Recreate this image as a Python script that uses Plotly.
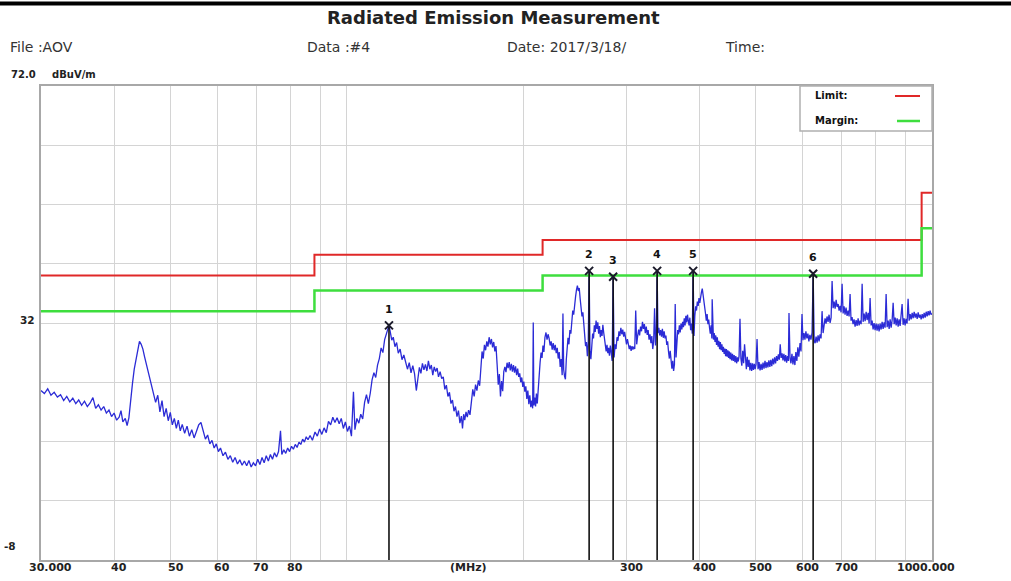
import math
import plotly.graph_objects as go

# ---- measured emission scan: (frequency MHz, level dBuV/m) ----
scan = [
    (30.0, 20.6), (30.4, 20.1), (30.8, 20.9), (31.2, 19.8), (31.6, 20.3), (32.0, 19.5),
    (32.4, 19.9), (32.8, 18.9), (33.2, 19.6), (33.6, 18.7), (34.0, 19.3), (34.4, 18.4),
    (34.8, 19.0), (35.2, 18.1), (35.6, 18.8), (36.0, 17.9), (36.4, 18.5), (36.8, 19.4),
    (37.2, 17.6), (37.6, 18.2), (38.0, 17.3), (38.4, 17.9), (38.8, 16.8), (39.2, 17.3),
    (39.6, 16.2), (40.0, 16.8), (40.4, 15.6), (40.8, 16.1), (41.1, 17.2), (41.4, 15.3),
    (41.8, 15.9), (42.1, 14.7), (42.4, 16.0), (42.7, 19.5), (43.0, 21.8), (43.3, 24.2),
    (43.6, 26.0), (43.9, 27.2), (44.2, 28.9), (44.5, 28.4), (44.8, 27.6), (45.1, 26.3),
    (45.5, 24.8), (45.9, 23.2), (46.3, 21.5), (46.7, 20.1), (47.1, 18.6), (47.5, 19.8),
    (47.9, 17.0), (48.3, 18.9), (48.7, 16.2), (49.1, 17.6), (49.5, 15.5), (49.9, 16.9),
    (50.3, 14.8), (50.7, 15.9), (51.1, 14.2), (51.5, 15.6), (51.9, 13.8), (52.3, 14.9),
    (52.8, 13.4), (53.3, 14.6), (53.8, 12.9), (54.3, 14.0), (54.8, 12.6), (55.3, 13.7),
    (55.8, 14.8), (56.3, 15.2), (56.8, 13.9), (57.3, 12.4), (57.8, 13.1), (58.3, 11.6),
    (58.8, 12.2), (59.3, 10.9), (59.8, 11.6), (60.3, 10.3), (60.8, 10.9), (61.4, 9.6),
    (62.0, 10.2), (62.6, 9.0), (63.2, 9.6), (63.8, 8.5), (64.4, 9.3), (65.0, 8.2),
    (65.6, 8.9), (66.2, 8.0), (66.8, 8.7), (67.4, 7.9), (68.0, 8.8), (68.6, 7.7),
    (69.2, 8.4), (69.8, 7.9), (70.4, 9.0), (71.0, 8.1), (71.6, 9.3), (72.2, 8.4),
    (72.8, 9.6), (73.4, 8.7), (74.0, 9.8), (74.6, 9.0), (75.2, 10.1), (75.8, 9.4),
    (76.4, 10.3), (77.0, 13.8), (77.4, 9.8), (78.0, 10.6), (78.6, 10.0), (79.2, 10.9),
    (79.8, 10.3), (80.4, 11.2), (81.0, 10.7), (81.6, 11.5), (82.2, 11.0), (82.8, 11.9),
    (83.4, 11.5), (84.0, 12.4), (84.6, 11.9), (85.2, 12.8), (85.8, 12.3),
    (86.5, 13.0), (87.3, 12.2), (88.2, 13.6), (89.0, 12.9), (89.8, 14.1), (90.6, 13.2),
    (91.4, 14.3), (92.2, 13.5), (93.0, 15.4), (93.8, 14.8), (94.6, 16.1), (95.4, 15.2),
    (96.2, 16.0), (97.0, 15.0), (97.8, 15.9), (98.6, 14.2), (99.4, 15.3), (100.2, 13.7),
    (101.0, 14.6), (101.8, 12.9), (102.6, 20.4), (103.2, 14.0), (104.0, 15.9), (104.8, 15.1),
    (105.6, 16.6), (106.4, 15.8), (107.2, 18.6), (108.0, 19.9), (108.8, 18.4), (109.6, 20.1),
    (110.4, 22.4), (111.2, 23.6), (112.0, 22.8), (112.8, 24.9), (113.6, 26.0), (114.4, 27.8),
    (115.2, 27.0), (116.0, 29.2), (116.8, 30.1), (117.4, 30.8), (118.0, 31.6), (118.6, 30.5),
    (119.3, 29.1), (120.0, 29.6), (120.8, 28.0), (121.6, 28.7), (122.4, 26.9), (123.3, 27.6),
    (124.2, 25.8), (125.1, 26.6), (126.0, 25.1), (126.9, 24.2), (127.8, 25.3), (128.7, 23.6),
    (129.6, 24.8), (130.5, 23.4), (131.4, 20.6), (132.2, 23.0), (133.0, 24.5), (133.8, 23.5),
    (134.6, 25.2), (135.4, 24.1), (136.2, 25.0), (137.0, 23.9), (137.8, 25.6), (138.6, 24.2),
    (139.4, 24.9), (140.2, 23.2), (141.0, 24.6), (141.8, 23.8), (142.6, 24.4), (143.4, 22.9),
    (144.3, 23.8), (145.2, 22.6), (146.1, 22.9), (147.0, 20.8), (147.9, 21.5), (148.8, 19.6),
    (149.7, 20.3), (150.6, 18.4), (151.5, 19.0), (152.4, 17.1), (153.3, 17.9), (154.2, 16.2),
    (155.1, 17.2), (156.0, 15.1), (156.9, 16.3), (157.6, 14.2), (158.3, 16.6), (159.0, 15.6),
    (159.8, 17.0), (160.6, 16.1), (161.4, 17.3), (162.3, 16.5), (163.2, 19.4), (164.1, 20.8),
    (165.0, 19.6), (165.9, 21.6), (166.8, 20.6), (167.7, 22.3), (168.6, 21.4), (169.5, 24.5),
    (170.2, 27.2), (171.0, 26.0), (171.8, 28.3), (172.6, 27.4), (173.4, 28.9), (174.2, 28.0),
    (175.0, 29.6), (175.8, 28.4), (176.6, 29.3), (177.4, 27.9), (178.2, 28.8), (179.0, 27.2),
    (179.8, 28.1), (180.6, 25.0), (181.4, 21.6), (182.2, 23.4), (183.0, 19.6), (183.8, 22.2),
    (184.6, 20.5), (185.4, 23.8), (186.2, 24.6), (187.0, 23.7), (187.8, 25.3), (188.6, 24.4),
    (189.4, 25.4), (190.2, 24.0), (191.0, 25.1), (191.8, 23.8), (192.6, 24.9), (193.4, 23.6),
    (194.2, 24.7), (195.0, 23.2), (195.8, 24.3), (196.6, 22.9), (197.4, 23.5), (198.2, 22.0),
    (199.0, 22.8), (199.8, 21.2), (200.6, 22.1), (201.4, 20.4), (202.2, 21.3), (203.0, 19.2),
    (203.8, 20.6), (204.6, 18.3), (205.4, 19.8), (206.2, 17.8), (207.0, 18.9), (207.7, 17.6),
    (208.2, 32.1), (208.7, 18.1), (209.4, 19.4), (210.1, 17.9), (210.8, 20.1), (211.5, 18.4),
    (212.3, 21.2), (213.1, 23.8), (213.9, 25.4), (214.7, 27.0), (215.5, 26.1), (216.3, 28.2),
    (217.1, 27.1), (218.0, 29.6), (218.9, 30.4), (219.8, 29.2), (220.7, 30.1),
    (221.6, 29.4), (222.5, 28.2), (223.4, 28.9), (224.3, 27.5), (225.2, 28.6), (226.1, 27.4),
    (227.0, 28.3), (227.9, 26.9), (228.8, 27.8), (229.7, 26.0), (230.6, 27.1), (231.5, 24.6),
    (232.4, 25.9), (233.3, 23.2), (234.0, 33.6), (234.7, 24.1), (235.5, 23.0), (236.3, 22.5),
    (237.1, 25.8), (237.9, 27.9), (238.7, 29.5), (239.6, 28.4), (240.5, 30.8), (241.4, 30.2),
    (242.3, 32.6), (243.2, 34.1), (244.1, 33.4), (245.0, 35.6), (245.9, 36.4), (246.8, 37.6),
    (247.7, 38.3), (248.6, 37.4), (249.5, 37.9), (250.4, 36.1), (251.3, 35.0), (252.2, 33.1),
    (253.1, 33.8), (254.0, 31.2), (254.9, 30.3), (255.8, 28.1), (256.7, 28.8), (257.6, 26.4),
    (258.5, 28.6), (259.4, 40.8), (260.3, 27.2), (261.2, 25.9), (262.1, 28.0), (263.0, 30.2),
    (263.9, 29.4), (264.8, 31.6), (265.7, 30.5), (266.6, 32.4), (267.5, 31.0), (268.4, 32.1),
    (269.3, 30.2), (270.2, 31.5), (271.1, 29.6), (272.0, 30.8), (272.9, 29.8), (273.8, 31.7),
    (274.7, 30.4), (275.6, 29.1), (276.5, 28.4), (277.4, 27.2), (278.3, 28.3), (279.2, 26.9),
    (280.1, 27.8), (281.0, 26.5), (282.0, 28.2), (283.0, 27.0), (284.0, 25.6), (285.1, 39.8),
    (286.2, 26.2), (287.3, 28.4), (288.4, 27.6), (289.5, 29.6), (290.6, 29.0), (291.7, 30.6),
    (292.8, 29.8), (293.9, 31.2), (295.0, 30.1), (296.1, 30.9), (297.2, 29.7), (298.3, 30.5),
    (299.4, 29.2), (300.5, 28.4), (301.6, 29.3), (302.7, 28.1), (303.8, 27.6), (304.9, 28.2),
    (306.0, 27.3), (307.1, 28.1), (308.2, 27.5), (309.3, 28.0), (310.4, 27.6), (311.6, 34.1),
    (312.8, 28.4), (314.0, 29.8), (315.2, 30.9), (316.4, 29.9), (317.6, 31.4), (318.8, 30.6),
    (320.0, 32.2), (321.2, 31.0), (322.4, 31.8), (323.6, 30.3), (324.8, 31.4), (326.0, 30.0),
    (327.2, 30.8), (328.4, 29.2), (329.6, 30.1), (330.8, 28.6), (332.0, 29.8), (333.2, 27.6),
    (334.4, 28.9), (335.6, 34.5), (336.8, 28.2), (338.0, 30.1), (339.0, 40.8), (340.1, 30.3),
    (341.3, 31.2), (342.5, 29.9), (343.7, 30.8), (344.9, 29.7), (346.1, 31.0), (347.3, 29.5),
    (348.5, 30.6), (349.7, 29.4), (350.9, 29.9), (352.1, 28.3), (353.3, 28.9), (354.5, 27.2),
    (355.7, 26.0), (356.9, 27.3), (358.1, 25.1), (359.3, 24.3), (360.5, 25.6), (361.7, 23.9),
    (362.9, 25.0), (364.0, 35.2), (365.2, 26.2), (366.4, 29.6), (367.6, 30.8), (368.8, 30.1),
    (370.0, 31.6), (371.2, 30.4), (372.4, 31.9), (373.6, 30.9), (374.8, 32.2), (376.0, 31.3),
    (377.2, 32.8), (378.4, 31.6), (379.6, 33.2), (380.8, 32.1), (382.0, 33.4), (383.2, 32.4),
    (384.4, 31.6), (385.6, 32.9), (386.8, 30.8), (388.0, 31.9), (389.3, 30.2), (390.6, 40.8),
    (391.9, 29.8), (393.2, 33.2), (394.5, 34.8), (395.8, 34.1), (397.1, 35.6), (398.4, 34.9),
    (399.7, 36.2), (401.0, 35.4), (402.3, 36.8), (403.6, 37.2), (404.9, 37.8), (406.2, 36.9),
    (407.5, 35.6), (408.8, 34.8), (410.1, 33.6), (411.4, 32.4), (412.7, 33.5), (414.0, 31.8),
    (415.3, 32.6), (416.6, 31.2), (417.9, 30.2), (419.2, 31.6), (420.5, 29.4), (421.0, 36.0),
    (421.8, 30.1), (423.1, 29.2), (424.4, 30.3), (425.7, 28.8), (427.0, 29.9), (428.3, 28.3),
    (429.6, 29.6), (430.9, 28.0), (432.2, 29.0), (433.5, 27.6), (434.8, 28.8), (436.1, 27.4),
    (437.4, 28.4), (438.7, 27.1), (440.0, 28.0), (441.3, 26.8), (442.6, 27.7), (443.9, 26.4),
    (445.2, 27.6), (446.5, 26.3), (447.8, 27.4), (449.1, 26.1), (450.4, 27.2), (451.7, 25.9),
    (453.0, 27.0), (454.5, 25.7), (456.0, 26.8), (457.5, 25.6), (459.0, 26.6), (460.5, 25.4),
    (462.0, 26.4), (463.5, 25.2), (465.0, 26.2), (466.5, 25.5), (468.0, 26.4), (469.7, 32.7),
    (471.4, 26.0), (473.1, 24.8), (474.8, 27.3), (476.5, 25.2), (478.2, 28.4), (479.9, 25.9),
    (481.6, 24.2), (483.3, 26.3), (485.0, 24.6), (486.7, 25.8), (488.4, 24.0), (490.1, 25.3),
    (491.8, 23.9), (493.5, 25.2), (495.2, 24.1), (496.9, 25.1), (498.6, 24.2), (500.3, 25.0),
    (502.3, 29.3), (504.3, 24.2), (506.3, 25.4), (508.3, 24.0), (510.3, 25.1), (512.3, 24.1),
    (514.3, 25.3), (516.3, 24.3), (518.3, 25.6), (520.3, 24.4), (522.3, 25.4), (524.3, 24.5),
    (526.3, 25.7), (528.3, 24.6), (530.3, 25.8), (532.3, 24.7), (534.3, 26.0), (536.3, 25.0),
    (538.3, 26.2), (540.3, 25.2), (542.3, 26.4), (544.3, 25.6), (546.3, 26.7), (548.3, 25.8),
    (550.3, 28.4), (552.3, 26.1), (554.3, 26.9), (556.3, 25.7), (558.3, 26.8), (560.3, 25.5),
    (562.3, 26.6), (564.3, 25.3), (566.3, 26.4), (568.3, 25.6), (569.6, 33.7),
    (571.9, 26.1), (574.0, 25.2), (576.3, 26.8), (578.5, 25.0), (580.7, 26.4), (583.0, 24.9),
    (585.2, 27.1), (587.5, 25.6), (589.8, 27.9), (592.1, 26.3), (594.9, 28.6), (597.2, 27.2),
    (599.5, 33.5), (601.8, 29.1), (604.2, 30.3), (606.5, 29.2), (608.8, 30.6), (611.2, 29.4),
    (613.6, 30.2), (616.0, 28.9), (618.4, 30.0), (621.0, 29.2), (623.7, 30.4), (626.4, 40.3),
    (629.0, 29.0), (631.3, 28.6), (633.7, 29.7), (636.2, 28.7), (638.7, 29.9), (641.2, 28.9),
    (643.7, 30.1), (646.2, 29.4), (648.8, 34.0), (651.4, 30.3), (654.0, 31.6), (656.5, 32.8),
    (659.0, 31.9), (661.6, 33.1), (664.3, 32.2), (666.9, 33.4), (669.6, 32.0), (672.3, 32.9),
    (674.9, 39.1), (677.6, 34.5), (680.3, 35.6), (683.0, 34.4), (685.7, 35.9), (688.4, 34.7),
    (691.2, 35.2), (693.8, 34.1), (696.5, 34.9), (699.2, 33.8), (702.0, 38.6), (704.8, 33.6),
    (707.5, 34.8), (710.2, 33.4), (713.0, 34.6), (715.9, 33.2), (718.8, 34.1), (721.6, 33.1),
    (724.4, 36.9), (727.2, 32.4), (730.1, 33.0), (733.0, 31.8), (735.9, 32.6), (738.8, 31.4),
    (741.8, 32.5), (744.7, 31.5), (747.7, 32.8), (750.6, 31.6), (753.6, 32.4), (756.6, 31.8),
    (759.6, 38.6), (762.6, 32.2), (765.6, 33.6), (768.6, 32.3), (771.7, 33.9), (774.7, 32.5),
    (777.8, 33.7), (780.8, 31.9), (783.8, 36.2), (786.9, 31.6), (790.0, 32.4), (793.1, 30.9),
    (796.2, 32.0), (799.3, 30.8), (802.5, 31.9), (805.6, 30.7), (808.8, 31.8), (812.0, 30.6),
    (815.3, 31.9), (818.5, 30.9), (821.8, 32.2), (825.0, 31.0), (828.3, 32.1), (831.5, 31.2),
    (834.8, 36.9), (838.1, 31.3), (841.5, 32.4), (844.8, 31.0), (848.1, 32.6), (851.5, 31.2),
    (854.8, 32.5), (858.2, 35.4), (861.6, 31.8), (865.0, 32.9), (868.4, 31.6), (871.8, 32.8),
    (875.2, 31.4), (878.6, 32.6), (882.1, 31.5), (885.5, 32.9), (889.0, 35.2), (892.5, 31.7),
    (896.0, 32.8), (899.5, 31.6), (903.0, 32.7), (906.6, 31.9), (910.2, 36.1), (913.9, 32.4),
    (917.6, 33.5), (921.2, 32.6), (924.9, 33.7), (928.5, 32.8), (932.2, 33.9), (935.9, 32.9),
    (939.6, 33.6), (943.3, 32.7), (947.0, 33.8), (950.7, 32.9), (954.4, 33.4), (958.2, 32.6),
    (962.0, 33.5), (965.8, 32.8), (969.6, 33.7), (973.4, 32.9), (977.3, 33.9), (981.1, 33.1),
    (985.0, 34.0), (988.6, 33.3), (992.5, 34.1), (996.2, 33.4), (1000.0, 33.6),
]
scan_freq = [f for f, _ in scan]
scan_level = [v for _, v in scan]

# ---- limit line (step edges in MHz) and margin ----
limit_edges = [30, 88, 216, 960, 1000]
limit_levels = [40.0, 43.5, 46.0, 54.0]
margin_db = 6.0

# ---- peak markers ----
marker_ids = ["1", "2", "3", "4", "5", "6"]
marker_freq = [118.0, 259.4, 285.1, 339.0, 390.6, 626.4]
marker_level = [31.6, 40.8, 39.8, 40.8, 40.8, 40.3]

# ---- axes ----
y_min, y_max = -8, 72
y_grid = [2, 12, 22, 32, 42, 52, 62]
x_grid = [40, 50, 60, 70, 80, 90, 100, 200, 300, 400, 500, 600, 700, 800, 900]
x_tick_vals = [30, 40, 50, 60, 70, 80, 300, 400, 500, 600, 700, 1000]
x_tick_text = ["30.000", "40", "50", "60", "70", "80", "300", "400", "500", "600", "700", "1000.000"]

W, H = 1011, 581
M_L, M_R, M_T, M_B = 41, 79, 86, 21
PLOT_W = W - M_L - M_R
PLOT_H = H - M_T - M_B


def px_x(p):
    return (p - M_L) / PLOT_W


def px_y(p):
    return (H - M_B - p) / PLOT_H


step_x = limit_edges
step_limit = limit_levels + [limit_levels[-1]]
step_margin = [v - margin_db for v in step_limit]

fig = go.Figure()

fig.add_trace(go.Scatter(
    x=scan_freq, y=scan_level, mode="lines",
    line=dict(color="#2b2bd6", width=1.3), hoverinfo="skip",
))
fig.add_trace(go.Scatter(
    x=step_x, y=step_limit, mode="lines", line_shape="hv",
    line=dict(color="#e02828", width=2), hoverinfo="skip",
))
fig.add_trace(go.Scatter(
    x=step_x, y=step_margin, mode="lines", line_shape="hv",
    line=dict(color="#3ede3e", width=2.5), hoverinfo="skip",
))

# vertical drop lines from each marker to the bottom of the axis
drop_x, drop_y = [], []
for f, v in zip(marker_freq, marker_level):
    drop_x += [f, f, None]
    drop_y += [v, y_min, None]
fig.add_trace(go.Scatter(
    x=drop_x, y=drop_y, mode="lines",
    line=dict(color="#111111", width=1.6), hoverinfo="skip",
))
fig.add_trace(go.Scatter(
    x=marker_freq, y=marker_level, mode="markers",
    marker=dict(symbol="x-thin", size=8, line=dict(color="#1a1a2a", width=2)),
    hoverinfo="skip",
))

annotations = []
for lab, f, v in zip(marker_ids, marker_freq, marker_level):
    annotations.append(dict(
        x=math.log10(f), y=v, xref="x", yref="y", text="<b>%s</b>" % lab,
        showarrow=False, yshift=16, font=dict(family="DejaVu Sans", size=11, color="#111"),
    ))

# x tick labels under the frame
for i, (tv, tt) in enumerate(zip(x_tick_vals, x_tick_text)):
    shift = 9 if i == 0 else (-6 if i == len(x_tick_vals) - 1 else 5)
    annotations.append(dict(
        x=math.log10(tv), y=px_y(567), xref="x", yref="paper", text="<b>%s</b>" % tt,
        showarrow=False, xanchor="center", yanchor="middle", xshift=shift,
        font=dict(family="DejaVu Sans", size=11, color="#222"),
    ))
annotations.append(dict(
    x=px_x(468), y=px_y(567), xref="paper", yref="paper", text="<b>(MHz)</b>",
    showarrow=False, xanchor="center", yanchor="middle",
    font=dict(family="DejaVu Sans", size=11, color="#222"),
))

# y labels
annotations += [
    dict(x=px_x(38), y=px_y(75), xref="paper", yref="paper", text="<b>72.0</b>",
         showarrow=False, xanchor="right", yanchor="middle",
         font=dict(family="DejaVu Sans", size=10, color="#222")),
    dict(x=px_x(50), y=px_y(75), xref="paper", yref="paper", text="<b>dBuV/m</b>",
         showarrow=False, xanchor="left", yanchor="middle",
         font=dict(family="DejaVu Sans", size=10, color="#222")),
    dict(x=px_x(37), y=32, xref="paper", yref="y", text="<b>32</b>", yshift=3,
         showarrow=False, xanchor="right", yanchor="middle",
         font=dict(family="DejaVu Sans", size=10.5, color="#222")),
    dict(x=px_x(18), y=y_min, xref="paper", yref="y", text="<b>-8</b>", yshift=14,
         showarrow=False, xanchor="right", yanchor="middle",
         font=dict(family="DejaVu Sans", size=10.5, color="#222")),
]

# header
annotations += [
    dict(x=px_x(493), y=px_y(18), xref="paper", yref="paper",
         text="<b>Radiated Emission Measurement</b>", showarrow=False,
         xanchor="center", yanchor="middle",
         font=dict(family="DejaVu Sans", size=18, color="#222")),
    dict(x=px_x(8), y=px_y(47), xref="paper", yref="paper", text="File :AOV",
         showarrow=False, xanchor="left", yanchor="middle",
         font=dict(family="DejaVu Sans", size=14, color="#333")),
    dict(x=px_x(305), y=px_y(47), xref="paper", yref="paper", text="Data :#4",
         showarrow=False, xanchor="left", yanchor="middle",
         font=dict(family="DejaVu Sans", size=14, color="#333")),
    dict(x=px_x(505), y=px_y(47), xref="paper", yref="paper", text="Date: 2017/3/18/",
         showarrow=False, xanchor="left", yanchor="middle",
         font=dict(family="DejaVu Sans", size=14, color="#333")),
    dict(x=px_x(723), y=px_y(47), xref="paper", yref="paper", text="Time:",
         showarrow=False, xanchor="left", yanchor="middle",
         font=dict(family="DejaVu Sans", size=14, color="#333")),
]

# legend box text
annotations += [
    dict(x=px_x(813), y=px_y(96), xref="paper", yref="paper", text="<b>Limit:</b>",
         showarrow=False, xanchor="left", yanchor="middle",
         font=dict(family="DejaVu Sans", size=10, color="#111")),
    dict(x=px_x(813), y=px_y(120), xref="paper", yref="paper", text="<b>Margin:</b>",
         showarrow=False, xanchor="left", yanchor="middle",
         font=dict(family="DejaVu Sans", size=10, color="#111")),
]

shapes = [
    # black rule across the top of the page
    dict(type="line", xref="paper", yref="paper", x0=px_x(-20), x1=px_x(W + 20),
         y0=px_y(3.5), y1=px_y(3.5), line=dict(color="#000", width=4)),
    # legend box
    dict(type="rect", xref="paper", yref="paper", x0=px_x(800), x1=px_x(932),
         y0=px_y(131), y1=px_y(86), fillcolor="white",
         line=dict(color="#b0b0b0", width=1.5), layer="above"),
    dict(type="line", xref="paper", yref="paper", x0=px_x(895), x1=px_x(920),
         y0=px_y(96), y1=px_y(96), line=dict(color="#e02828", width=2), layer="above"),
    dict(type="line", xref="paper", yref="paper", x0=px_x(897), x1=px_x(920),
         y0=px_y(121), y1=px_y(121), line=dict(color="#3ede3e", width=2.5), layer="above"),
]

fig.update_layout(
    width=W, height=H,
    margin=dict(l=M_L, r=M_R, t=M_T, b=M_B, pad=0),
    paper_bgcolor="white", plot_bgcolor="white",
    showlegend=False,
    annotations=annotations, shapes=shapes,
    xaxis=dict(
        type="log", range=[math.log10(30), math.log10(1000)],
        tickmode="array", tickvals=x_grid, showticklabels=False, ticks="",
        showgrid=True, gridcolor="#d4d4d4", gridwidth=1, zeroline=False,
        showline=True, mirror=True, linecolor="#a8a8a8", linewidth=2,
    ),
    yaxis=dict(
        range=[y_min, y_max], tickmode="array", tickvals=y_grid,
        showticklabels=False, ticks="",
        showgrid=True, gridcolor="#d4d4d4", gridwidth=1, zeroline=False,
        showline=True, mirror=True, linecolor="#a8a8a8", linewidth=2,
    ),
)

fig.write_html("out.html")
